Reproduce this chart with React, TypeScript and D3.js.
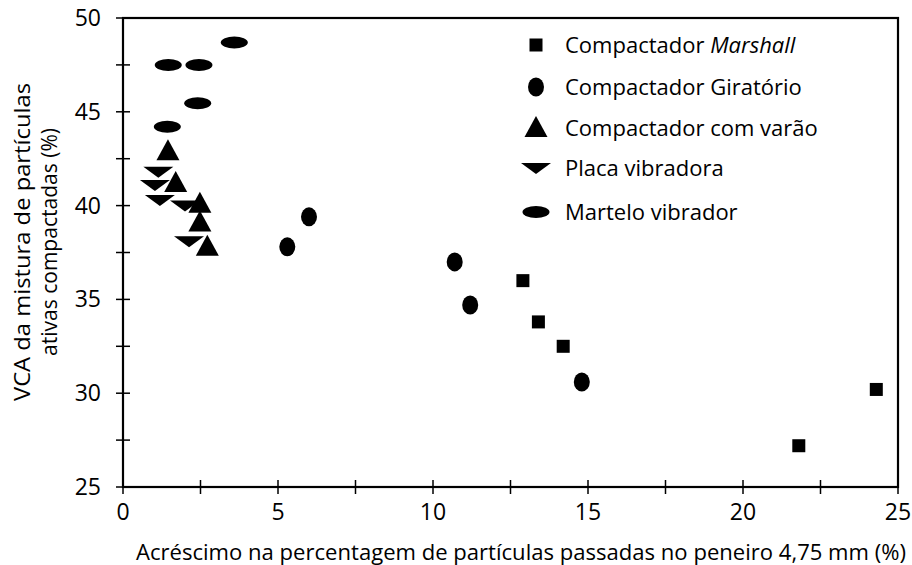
import React from "react";
import * as d3 from "d3";

const marshallX = [12.9, 13.4, 14.2, 21.8, 24.3];
const marshallY = [36.0, 33.8, 32.5, 27.2, 30.2];
const giratorioX = [5.3, 6.0, 10.7, 11.2, 14.8];
const giratorioY = [37.8, 39.4, 37.0, 34.7, 30.6];
const varaoX = [1.45, 1.7, 2.48, 2.48, 2.72];
const varaoY = [42.9, 41.2, 40.1, 39.1, 37.8];
const placaX = [1.14, 1.03, 1.19, 2.0, 2.13];
const placaY = [41.8, 41.1, 40.3, 40.0, 38.1];
const marteloX = [3.59, 1.46, 2.45, 2.41, 1.43];
const marteloY = [48.7, 47.5, 47.5, 45.45, 44.2];

const xTicks = [0, 5, 10, 15, 20, 25];
const yTicks = [25, 30, 35, 40, 45, 50];
const xMinor = [2.5, 7.5, 12.5, 17.5, 22.5];
const yMinor = [27.5, 32.5, 37.5, 42.5, 47.5];

const xTitle = "Acréscimo na percentagem de partículas passadas no peneiro 4,75 mm (%)";
const yTitle1 = "VCA da mistura de partículas";
const yTitle2 = "ativas compactadas (%)";

type Shape = "square" | "circle" | "up" | "down" | "ellipse";

const series: { name: string; italic?: string; shape: Shape; xs: number[]; ys: number[] }[] = [
  { name: "Compactador ", italic: "Marshall", shape: "square", xs: marshallX, ys: marshallY },
  { name: "Compactador Giratório", shape: "circle", xs: giratorioX, ys: giratorioY },
  { name: "Compactador com varão", shape: "up", xs: varaoX, ys: varaoY },
  { name: "Placa vibradora", shape: "down", xs: placaX, ys: placaY },
  { name: "Martelo vibrador", shape: "ellipse", xs: marteloX, ys: marteloY },
];

const FONT = "'Open Sans', 'Noto Sans', sans-serif";

function Marker({ shape, x, y }: { shape: Shape; x: number; y: number }) {
  const t = `translate(${x},${y})`;
  switch (shape) {
    case "square":
      return <rect x={x - 6.5} y={y - 6.5} width={13} height={13} fill="#000" />;
    case "circle":
      return <ellipse cx={x} cy={y} rx={8} ry={9.5} fill="#000" />;
    case "up":
      return <path transform={t} d="M0,-12L11.5,9L-11.5,9Z" fill="#000" />;
    case "down":
      return <path transform={t} d="M-15,-5L15,-5L0,6Z" fill="#000" />;
    case "ellipse":
      return <ellipse cx={x} cy={y} rx={13.5} ry={6} fill="#000" />;
  }
}

export default function App() {
  const W = 912;
  const H = 565;
  const left = 123, right = 898, top = 18, bottom = 487;
  const x = d3.scaleLinear().domain([0, 25]).range([left, right]);
  const y = d3.scaleLinear().domain([25, 50]).range([bottom, top]);
  const tk = 7;
  const legendRows = [45, 87, 128, 168, 212];

  return (
    <svg width={W} height={H} style={{ position: "absolute", left: 0, top: 0, background: "#fff" }} fontFamily={FONT}>
      <rect x={0} y={0} width={W} height={H} fill="#fff" />
      <rect x={left} y={top} width={right - left} height={bottom - top} fill="none" stroke="#000" strokeWidth={2.2} />
      {[...xTicks, ...xMinor].map((v) => (
        <line key={"xt" + v} x1={x(v)} x2={x(v)} y1={bottom - tk} y2={bottom + tk} stroke="#000" strokeWidth={1.5} />
      ))}
      {[...yTicks, ...yMinor].map((v) => (
        <line key={"yt" + v} x1={left - tk} x2={left + tk} y1={y(v)} y2={y(v)} stroke="#000" strokeWidth={1.5} />
      ))}
      {xTicks.map((v) => (
        <text key={"xl" + v} x={x(v)} y={bottom + 33} fontSize={23} textAnchor="middle" fill="#000">
          {v}
        </text>
      ))}
      {yTicks.map((v) => (
        <text key={"yl" + v} x={left - 22} y={y(v) + 8} fontSize={23} textAnchor="end" fill="#000">
          {v}
        </text>
      ))}
      <text x={521} y={560} fontSize={22} textAnchor="middle" fill="#000" textLength={770} lengthAdjust="spacingAndGlyphs">
        {xTitle}
      </text>
      <g transform="translate(30,242) rotate(-90)">
        <text x={0} y={0} fontSize={21} textAnchor="middle" fill="#000" textLength={318} lengthAdjust="spacingAndGlyphs">
          {yTitle1}
        </text>
        <text x={0} y={27} fontSize={21} textAnchor="middle" fill="#000" textLength={228} lengthAdjust="spacingAndGlyphs">
          {yTitle2}
        </text>
      </g>
      {series.map((s) =>
        s.xs.map((xv, i) => <Marker key={s.shape + i} shape={s.shape} x={x(xv)} y={y(s.ys[i])} />)
      )}
      {series.map((s, i) => (
        <g key={"lg" + i}>
          <Marker shape={s.shape} x={536} y={legendRows[i]} />
          <text x={565} y={legendRows[i] + 8} fontSize={22} fill="#000">
            {s.name}
            {s.italic ? <tspan fontStyle="italic">{s.italic}</tspan> : null}
          </text>
        </g>
      ))}
    </svg>
  );
}
